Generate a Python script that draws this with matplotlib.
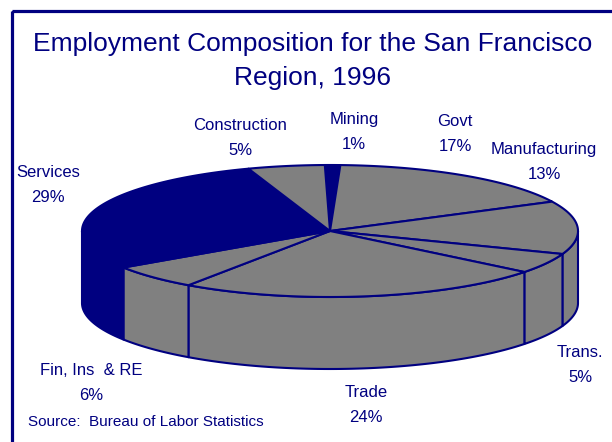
import numpy as np
import matplotlib
matplotlib.use("Agg")
import matplotlib.pyplot as plt
from matplotlib.patches import Polygon, Rectangle

# ---- data ----
categories = ["Mining", "Govt", "Manufacturing", "Trans.", "Trade",
              "Fin, Ins  & RE", "Services", "Construction"]
values = [1, 17, 13, 5, 24, 6, 29, 5]
title = "Employment Composition for the San Francisco\nRegion, 1996"
source = "Source:  Bureau of Labor Statistics"

# ---- style / layout ----
NAVY = "#000080"
GRAY = "#808080"
colors = [NAVY, GRAY, GRAY, GRAY, GRAY, GRAY, NAVY, GRAY]
label_pos = [(354, 132), (455, 134), (544, 162), (580, 365), (366, 405),
             (91, 383), (48, 185), (240, 138)]
cx, cy, a, b, depth = 330, 231, 248, 66, 72
start = 91.2

plt.rcParams['font.family'] = ['Liberation Sans', 'DejaVu Sans']
fig = plt.figure(figsize=(6.12, 4.42), dpi=100)
ax = fig.add_axes([0, 0, 1, 1])
ax.set_xlim(0, 612)
ax.set_ylim(442, 0)
ax.axis('off')


def pt(theta_deg, dy=0.0):
    t = np.radians(theta_deg)
    return cx + a * np.cos(t), cy - b * np.sin(t) + dy


total = float(sum(values))
bounds = []
ang = start
for v in values:
    hi = ang
    lo = ang - v / total * 360.0
    bounds.append((lo, hi))
    ang = lo

# side walls (front half: theta in [-180, 0] mod 360)
for (lo, hi), col in zip(bounds, colors):
    for k in (-1, 0, 1):
        flo, fhi = -180 + 360 * k, 0 + 360 * k
        s, e = max(lo, flo), min(hi, fhi)
        if e - s <= 0.01:
            continue
        th = np.linspace(e, s, 120)
        top = [pt(t) for t in th]
        bot = [pt(t, depth) for t in th[::-1]]
        poly = Polygon(top + bot, closed=True, facecolor=col,
                       edgecolor=NAVY, lw=1.5, joinstyle='round', zorder=2)
        ax.add_patch(poly)

# top faces
for (lo, hi), col in zip(bounds, colors):
    th = np.linspace(hi, lo, max(4, int((hi - lo) * 2)))
    pts = [(cx, cy)] + [pt(t) for t in th]
    poly = Polygon(pts, closed=True, facecolor=col, edgecolor=NAVY,
                   lw=1.5, joinstyle='round', zorder=3)
    ax.add_patch(poly)

# labels
for name, v, (x, y) in zip(categories, values, label_pos):
    ax.text(x, y, f"{name}\n{v}%", ha='center', va='center', fontsize=12,
            color=NAVY, linespacing=1.8, zorder=5)

ax.text(313, 61, title, ha='center', va='center', fontsize=19,
        color=NAVY, linespacing=1.48)
ax.text(28, 422, source, ha='left', va='center', fontsize=11, color=NAVY)

# frame
ax.add_patch(Rectangle((11.5, 11), 800, 600, fill=False, edgecolor=NAVY,
                       lw=2.3, zorder=6))

fig.savefig("out.png", dpi=100)
